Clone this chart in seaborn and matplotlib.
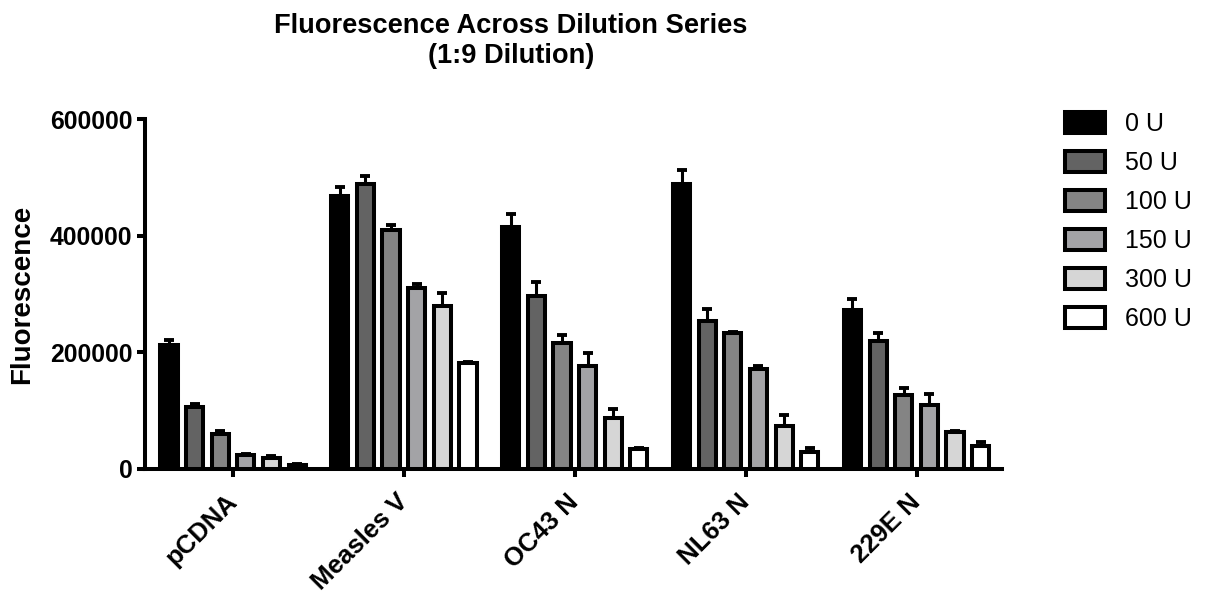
import matplotlib.pyplot as plt
import numpy as np
import pandas as pd
import seaborn as sns


samples = ["pCDNA", "Measles V", "OC43 N", "NL63 N", "229E N"]
doses = ["0 U", "50 U", "100 U", "150 U", "300 U", "600 U"]

# mean fluorescence per dose, one list per sample
pcdna = [213000, 107000, 60000, 24500, 18500, 7500]
measles_v = [468000, 488000, 410000, 310000, 280000, 182000]
oc43_n = [415000, 296000, 216000, 176000, 88000, 34000]
nl63_n = [489000, 253000, 234000, 171000, 74500, 30000]
e229_n = [273000, 219000, 127000, 109000, 64000, 39500]

# upper error (SEM) per dose
pcdna_err = [9000, 5000, 5500, 2000, 3000, 1000]
measles_v_err = [15000, 14000, 8000, 7000, 21000, 2000]
oc43_n_err = [22000, 24000, 14000, 23000, 15000, 2000]
nl63_n_err = [24000, 22000, 1500, 6000, 18000, 5500]
e229_n_err = [19000, 15000, 12000, 20000, 1500, 7000]

dose_colors = ["#000000", "#636363", "#848484", "#A3A2A7", "#D6D6D6", "#FFFFFF"]


def build_frame() -> pd.DataFrame:
    means = [pcdna, measles_v, oc43_n, nl63_n, e229_n]
    errs = [pcdna_err, measles_v_err, oc43_n_err, nl63_n_err, e229_n_err]
    rows = []
    for s, m, e in zip(samples, means, errs):
        for d, v, ev in zip(doses, m, e):
            rows.append({"Sample": s, "Dose": d, "Fluorescence": v, "Err": ev})
    return pd.DataFrame(rows)


def main() -> None:
    sns.set_theme(style="ticks")
    plt.rcParams["font.family"] = ["Liberation Sans", "DejaVu Sans"]
    plt.rcParams.update({
        "text.color": "black", "axes.labelcolor": "black", "axes.edgecolor": "black",
        "xtick.color": "black", "ytick.color": "black",
    })

    df = build_frame()
    fig = plt.figure(figsize=(12.2, 5.97), dpi=100)
    ax = fig.add_axes([145 / 1220, 1 - 469 / 597, 857 / 1220, 350 / 597])

    sns.barplot(
        data=df, x="Sample", y="Fluorescence", hue="Dose",
        order=samples, hue_order=doses, palette=dose_colors,
        edgecolor="black", linewidth=2.9, width=0.9, gap=0.33,
        errorbar=None, ax=ax, zorder=3,
    )

    # upper-only error bars placed on the seaborn bars
    for dose, cont in zip(doses, ax.containers):
        sub = df[df["Dose"] == dose].set_index("Sample").loc[samples]
        xs = [p.get_x() + p.get_width() / 2 for p in cont.patches]
        hs = sub["Fluorescence"].to_numpy()
        ax.errorbar(xs, hs, yerr=[np.zeros(len(hs)), sub["Err"].to_numpy()],
                    fmt="none", ecolor="black", elinewidth=2.2,
                    capsize=3.5, capthick=2.8, zorder=2)

    ax.set_ylim(0, 600000)
    ax.set_xlim(-0.515, 4.5)
    ax.set_yticks([0, 200000, 400000, 600000])
    ax.set_yticklabels(["0", "200000", "400000", "600000"])
    ax.set_xlabel("")
    ax.set_ylabel("Fluorescence", fontsize=20, fontweight="bold")
    ax.yaxis.set_label_coords(-0.128, 0.5)

    for side in ["top", "right"]:
        ax.spines[side].set_visible(False)
    for side in ["left", "bottom"]:
        ax.spines[side].set_linewidth(2.9)
    ax.tick_params(axis="y", length=6, width=2.9, pad=3, labelsize=17.8)
    ax.tick_params(axis="x", length=6, width=2.9, pad=15, labelsize=18.5)
    for lab in ax.get_yticklabels():
        lab.set_fontweight("bold")
    for lab in ax.get_xticklabels():
        lab.set_fontweight("bold")
        lab.set_rotation(45)
        lab.set_ha("right")
        lab.set_va("center")
        lab.set_rotation_mode("anchor")

    handles, labels = ax.get_legend_handles_labels()
    ax.legend(handles, labels, loc="upper left", bbox_to_anchor=(1055 / 1220, 1 - 102 / 597),
              bbox_transform=fig.transFigure, frameon=False, fontsize=18,
              handlelength=1.6, handleheight=0.9, handletextpad=0.8, labelspacing=0.6,
              borderaxespad=0)

    fig.text(0.419, 0.978, "Fluorescence Across Dilution Series\n(1:9 Dilution)",
             ha="center", va="top", fontsize=19.6, fontweight="bold", linespacing=1.2)

    fig.savefig("out.png", dpi=100)
    plt.close(fig)


if __name__ == "__main__":
    main()
